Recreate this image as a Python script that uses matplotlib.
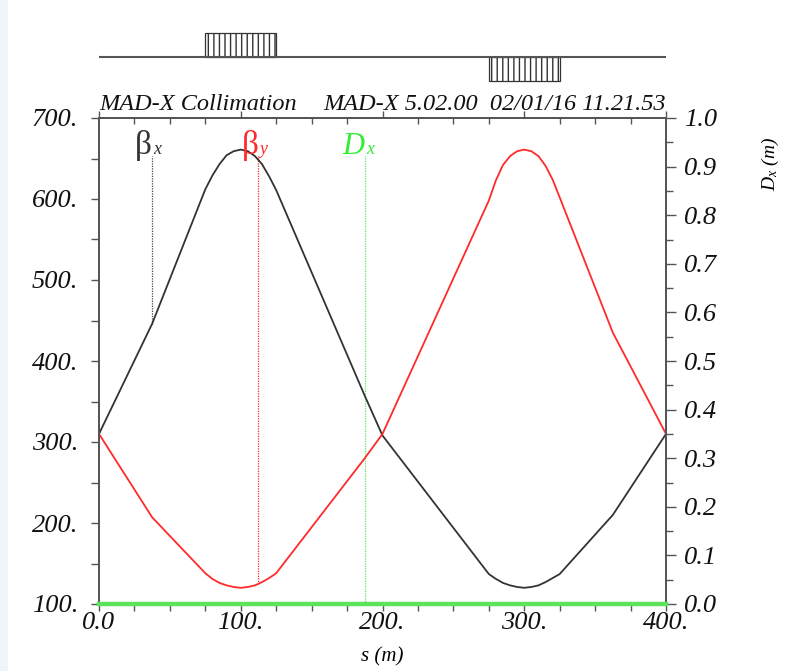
import matplotlib
matplotlib.use("Agg")
import matplotlib.pyplot as plt
from matplotlib.patches import Rectangle
from matplotlib.ticker import MultipleLocator, FuncFormatter, FixedLocator

plt.rcParams["mathtext.fontset"] = "custom"
plt.rcParams["mathtext.rm"] = "Liberation Serif"
plt.rcParams["mathtext.it"] = "Liberation Serif:italic"

# ---------------- data ----------------
s_bx = [0, 37.5, 75, 80, 85, 90, 95, 100, 105, 110, 115, 120, 125, 187.5, 200,
        275, 280, 285, 290, 295, 300, 305, 310, 315, 320, 325, 362.5, 400]
beta_x = [310, 446, 612, 629, 643, 654, 659, 661, 659, 653, 643, 628, 611, 357, 308,
          137, 131, 126, 123, 121, 120, 121, 123, 127, 132, 137, 210, 310]

s_by = [0, 37.5, 75, 80, 85, 90, 95, 100, 105, 110, 115, 120, 125, 187.5, 200,
        275, 280, 285, 290, 295, 300, 305, 310, 315, 320, 325, 362.5, 400]
beta_y = [310, 207, 138, 131, 126, 123, 121, 120, 121, 123, 127, 132, 138, 280, 310,
          598, 623, 642, 653, 659, 661, 659, 653, 641, 624, 602, 435, 310]

s_dx = [0, 400]
d_x = [0.0, 0.0]

# legend marker positions (s) and the value where the dotted line ends
marker_s = [37.5, 112.5, 187.5]
marker_end = [446, 125, 100]
marker_names = ["x", "y", "x"]
marker_main = ["\u03b2", "\u03b2", "D"]

# quadrupoles: start, end, sign (+1 focusing, -1 defocusing)
quad_start = [75, 275]
quad_end = [125, 325]
quad_sign = [1, -1]

left_ticks = [100, 200, 300, 400, 500, 600, 700]
bottom_ticks = [0, 100, 200, 300, 400]
bottom_labels = ["0.0", "100.", "200.", "300.", "400."]
right_ticks = [0.0, 0.1, 0.2, 0.3, 0.4, 0.5, 0.6, 0.7, 0.8, 0.9, 1.0]

title_left = "MAD-X Collimation"
title_right = "MAD-X 5.02.00  02/01/16 11.21.53"

# ---------------- style ----------------
SERIF = ["Liberation Serif", "DejaVu Serif"]
C_BX = "#333333"
C_BY = "#ff2a2a"
C_DX = "#5ce35c"
C_DX_TXT = "#33ee33"
AXC = "#555555"

W, H = 792, 671
fig = plt.figure(figsize=(W / 100, H / 100), dpi=100)
fig.patch.set_facecolor("white")
fig.patches.append(Rectangle((0, 0), 8 / W, 1, transform=fig.transFigure,
                             facecolor="#edf5f6", edgecolor="none", zorder=-10))

L, R = 99 / W, 666 / W
B, T = (H - 604) / H, (H - 118) / H
ax = fig.add_axes([L, B, R - L, T - B])
ax2 = ax.twinx()

ax.set_xlim(0, 400)
ax.set_ylim(100, 700)
ax2.set_ylim(0, 1.0)

for a in (ax, ax2):
    for sp in a.spines.values():
        sp.set_color(AXC)
        sp.set_linewidth(1.3)

# curves
ax.plot(s_bx, beta_x, color=C_BX, lw=1.3, zorder=3)
ax.plot(s_by, beta_y, color=C_BY, lw=1.3, zorder=3)
ax2.plot(s_dx, d_x, color=C_DX, lw=3.2, zorder=4, clip_on=False)

# marker lines and labels
colors = [C_BX, C_BY, C_DX_TXT]
line_colors = ["#444444", C_BY, C_DX]
for s, e, sub, main, c, lc in zip(marker_s, marker_end, marker_names, marker_main, colors, line_colors):
    ax.plot([s, s], [e, 653], color=lc, lw=0.9, ls=(0, (1, 1)), zorder=2)
    if main == "D":
        ax.text(s, 655, main, color=c, ha="right", va="baseline",
                fontsize=22, family=SERIF, style="italic")
    else:
        ax.text(s, 655, main, color=c, ha="right", va="baseline",
                fontsize=24, family=SERIF)
    ax.annotate(sub, xy=(s, 655), xytext=(1, 0), textcoords="offset points",
                color=c, ha="left", va="baseline", fontsize=13,
                family=SERIF, style="italic")

# ticks
ax.xaxis.set_major_locator(FixedLocator(bottom_ticks))
ax.xaxis.set_major_formatter(FuncFormatter(lambda v, p: bottom_labels[bottom_ticks.index(int(round(v)))] if int(round(v)) in bottom_ticks else ""))
ax.xaxis.set_minor_locator(MultipleLocator(25))
ax.yaxis.set_major_locator(FixedLocator(left_ticks))
ax.yaxis.set_major_formatter(FuncFormatter(lambda v, p: f"{v:.0f}."))
ax.yaxis.set_minor_locator(MultipleLocator(50))
ax2.yaxis.set_major_locator(FixedLocator(right_ticks))
ax2.yaxis.set_major_formatter(FuncFormatter(lambda v, p: f"{v:.1f}"))
ax2.yaxis.set_minor_locator(MultipleLocator(0.05))

ax.tick_params(axis="x", which="both", direction="out", length=5, width=1, color=AXC,
               top=True, bottom=True, labeltop=False)
ax.tick_params(axis="y", which="both", direction="out", length=6, width=1, color=AXC,
               left=True, right=False)
ax2.tick_params(axis="y", which="major", direction="out", length=7, width=1, color=AXC)
ax2.tick_params(axis="y", which="minor", direction="out", length=5, width=1, color=AXC)
# top ticks inward
for t in ax.xaxis.get_major_ticks() + ax.xaxis.get_minor_ticks():
    t.tick2line.set_marker(3)
    t.tick2line.set_markersize(4)

for lab in ax.get_xticklabels() + ax.get_yticklabels() + ax2.get_yticklabels():
    lab.set_fontfamily(SERIF)
    lab.set_fontstyle("italic")
    lab.set_fontsize(19)
    lab.set_color("#111111")
ax.tick_params(axis="x", pad=1)
ax.tick_params(axis="y", pad=9)
ax2.tick_params(axis="y", pad=6)

ax.set_xlabel("s (m)", fontsize=15, family=SERIF, style="italic", labelpad=9)
ax2.text(1.185, 0.905, "$D_x$ (m)", transform=ax2.transAxes, rotation=90,
         fontsize=14, family=SERIF, style="italic", ha="center", va="center")

# titles
ax.text(0.0, 1.006, title_left, transform=ax.transAxes, ha="left", va="bottom",
        fontsize=17.5, family=SERIF, style="italic", color="#111111")
ax.text(1.0, 1.006, title_right, transform=ax.transAxes, ha="right", va="bottom",
        fontsize=17.5, family=SERIF, style="italic", color="#111111")

# element bar
axt = fig.add_axes([L, (H - 86) / H, R - L, 58 / H])
axt.set_xlim(0, 400)
axt.set_ylim(-1.2, 1.2)
axt.axis("off")
axt.plot([0, 400], [0, 0], color=AXC, lw=1.5)
for a0, a1, sg in zip(quad_start, quad_end, quad_sign):
    y0 = 0 if sg > 0 else -1
    axt.add_patch(Rectangle((a0, y0), a1 - a0, 1, facecolor="white",
                            edgecolor="#333333", lw=0.9, hatch="|||"))

fig.savefig("out.png", dpi=100)
